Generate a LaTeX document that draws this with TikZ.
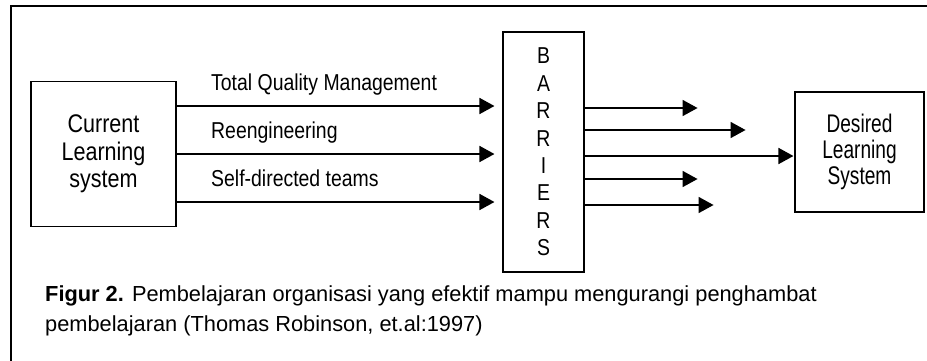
\documentclass[tikz,border=0pt]{standalone}
\usepackage{fontspec}
\setmainfont{Liberation Sans}[FakeStretch=0.845]
\newfontfamily\desfont{Liberation Sans}[FakeStretch=0.75]
\newfontfamily\capfont{Liberation Sans}
\usepackage{tikz}
\usetikzlibrary{arrows.meta,positioning}

\begin{document}
\begin{tikzpicture}[x=1pt,y=-1pt,>={Triangle[length=15pt,width=16pt]},
  box/.style={draw,line width=1.1pt,align=center,inner sep=0pt},
  flow/.style={->,line width=1.7pt},
  lbl/.style={anchor=base west,inner sep=0pt,font=\fontsize{23}{28}\selectfont},
  captext/.style={anchor=base west,inner sep=0pt,font=\capfont\fontsize{21.8}{28}\selectfont}]
  \useasboundingbox (0,0) rectangle (927,360);
  \draw[line width=1.2pt] (11,6) rectangle (960,400);

  \node[box,minimum width=145pt,minimum height=145pt,font=\fontsize{25.5}{27.5}\selectfont] (cur) at (103.5,154) {Current\\Learning\\system};
  \node[box,minimum width=81pt,minimum height=240pt,font=\fontsize{23}{27.4}\selectfont] (bar) at (543.5,152) {B\\A\\R\\R\\I\\E\\R\\S};
  \node[box,minimum width=129pt,minimum height=120pt,font=\desfont\fontsize{25.5}{25.7}\selectfont] (des) at (859.5,152) {Desired\\Learning\\System};

  \node[lbl] (tqm) at (211,90)  {Total Quality Management};
  \node[lbl] (ree) at (211,138) {Reengineering};
  \node[lbl] (sdt) at (211,186) {Self-directed teams};

  % into the barriers
  \draw[flow,shorten >=8pt] ([yshift=48pt]cur.east)  -- ([yshift=46pt]bar.west);
  \draw[flow,shorten >=8pt] (cur.east)                -- ([yshift=-2pt]bar.west);
  \draw[flow,shorten >=8pt] ([yshift=-48pt]cur.east) -- ([yshift=-50pt]bar.west);

  % out of the barriers
  \foreach \dy/\len in {44/113, 22/161, -27/113, -53/129}
    \draw[flow] ([yshift=\dy pt]bar.east) -- ++(\len pt,0);
  \draw[flow,shorten >=1pt] ([yshift=-4pt]bar.east) -- ([yshift=-4pt]des.west);

  \node[captext] (cap1) at (45,301) {\textbf{Figur 2.} Pembelajaran organisasi yang efektif mampu mengurangi penghambat};
  \node[captext] (cap2) at (45,331) {pembelajaran (Thomas Robinson, et.al:1997)};
\end{tikzpicture}
\end{document}
